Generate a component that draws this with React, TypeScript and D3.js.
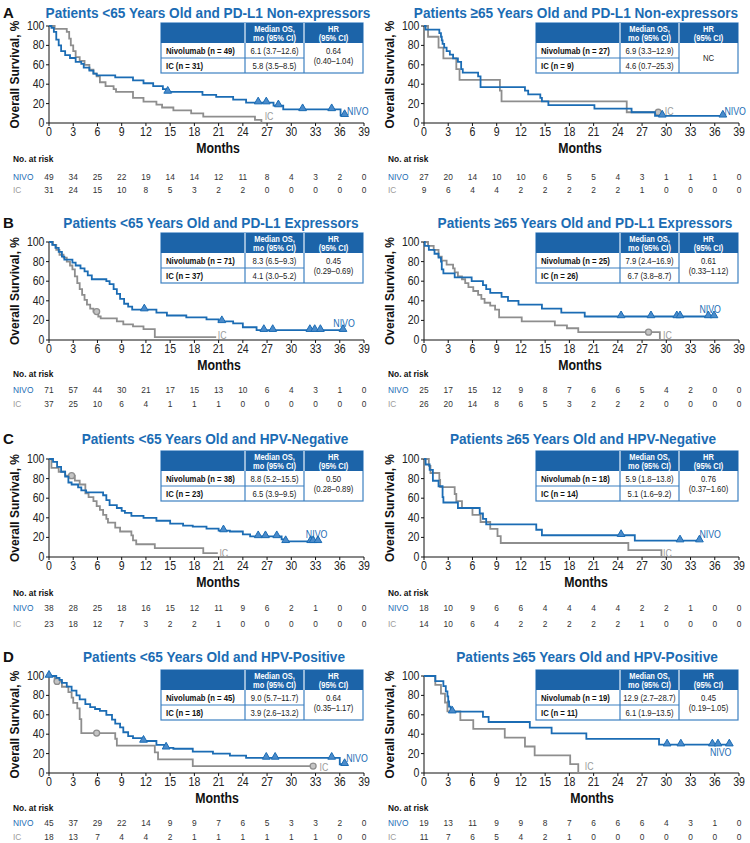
import React from "react";
import * as d3 from "d3";

type Step = [number, number];

const monthTicks = d3.range(0, 40, 3);
const survivalTicks = [0, 20, 40, 60, 80, 100];

const titles = [
  "Patients <65 Years Old and PD-L1 Non-expressors",
  "Patients ≥65 Years Old and PD-L1 Non-expressors",
  "Patients <65 Years Old and PD-L1 Expressors",
  "Patients ≥65 Years Old and PD-L1 Expressors",
  "Patients <65 Years Old and HPV-Negative",
  "Patients ≥65 Years Old and HPV-Negative",
  "Patients <65 Years Old and HPV-Positive",
  "Patients ≥65 Years Old and HPV-Positive",
];
const panelLetters = ["A", "", "B", "", "C", "", "D", ""];

const nivoN = [49, 27, 71, 25, 38, 18, 45, 19];
const icN = [31, 9, 37, 26, 23, 14, 18, 11];
const nivoMedian = ["6.1 (3.7–12.6)", "6.9 (3.3–12.9)", "8.3 (6.5–9.3)", "7.9 (2.4–16.9)", "8.8 (5.2–15.5)", "5.9 (1.8–13.8)", "9.0 (5.7–11.7)", "12.9 (2.7–28.7)"];
const icMedian = ["5.8 (3.5–8.5)", "4.6 (0.7–25.3)", "4.1 (3.0–5.2)", "6.7 (3.8–8.7)", "6.5 (3.9–9.5)", "5.1 (1.6–9.2)", "3.9 (2.6–13.2)", "6.1 (1.9–13.5)"];
const hrValue = ["0.64", "NC", "0.45", "0.61", "0.50", "0.76", "0.64", "0.45"];
const hrCI = ["(0.40–1.04)", "", "(0.29–0.69)", "(0.33–1.12)", "(0.28–0.89)", "(0.37–1.60)", "(0.35–1.17)", "(0.19–1.05)"];

const nivoRisk = [
  [49, 34, 25, 22, 19, 14, 14, 12, 11, 8, 4, 3, 2, 0],
  [27, 20, 14, 10, 10, 6, 5, 5, 4, 3, 1, 1, 1, 0],
  [71, 57, 44, 30, 21, 17, 15, 13, 10, 6, 4, 3, 1, 0],
  [25, 17, 15, 12, 9, 8, 7, 6, 6, 5, 4, 2, 0, 0],
  [38, 28, 25, 18, 16, 15, 12, 11, 9, 6, 2, 1, 0, 0],
  [18, 10, 9, 6, 6, 4, 4, 4, 4, 2, 2, 1, 0, 0],
  [45, 37, 29, 22, 14, 9, 9, 7, 6, 5, 3, 3, 2, 0],
  [19, 13, 11, 9, 9, 8, 7, 6, 6, 6, 4, 3, 1, 0],
];
const icRisk = [
  [31, 24, 15, 10, 8, 5, 3, 2, 2, 0, 0, 0, 0, 0],
  [9, 6, 4, 4, 2, 2, 2, 2, 2, 1, 0, 0, 0, 0],
  [37, 25, 10, 6, 4, 1, 1, 1, 0, 0, 0, 0, 0, 0],
  [26, 20, 14, 8, 6, 5, 3, 2, 2, 2, 0, 0, 0, 0],
  [23, 18, 12, 7, 3, 2, 2, 1, 0, 0, 0, 0, 0, 0],
  [14, 10, 6, 4, 2, 2, 2, 2, 2, 1, 0, 0, 0, 0],
  [18, 13, 7, 4, 4, 2, 1, 1, 1, 1, 1, 1, 0, 0],
  [11, 7, 6, 5, 4, 2, 1, 0, 0, 0, 0, 0, 0, 0],
];

// Kaplan-Meier drops: [month, survival % after the drop]
const nivoA1: Step[] = [[0.3, 98], [0.6, 94], [0.9, 86], [1.2, 80], [1.5, 74], [2.0, 70], [2.6, 67], [3.3, 63], [4.0, 61], [4.3, 57], [5.0, 54], [5.5, 51], [5.9, 49], [8.2, 47], [10.4, 44], [11.7, 41], [12.9, 38], [14.1, 35], [14.5, 32], [19.0, 29], [20.7, 27], [22.8, 24], [24.4, 21], [27.8, 18], [29.0, 14], [36.1, 8]];
const icA1: Step[] = [[0.7, 97], [2.2, 94], [2.5, 87], [2.7, 80], [3.0, 74], [3.3, 68], [3.8, 64], [4.4, 60], [5.0, 55], [5.5, 51], [5.9, 48], [6.3, 42], [7.0, 38], [8.0, 35], [8.3, 32], [10.4, 26], [11.7, 22], [13.3, 19], [14.0, 16], [15.4, 13], [17.6, 10], [19.1, 6.5], [25.5, 3.2], [26.3, 0]];
const nivoA2: Step[] = [[0.2, 96.3], [1.9, 92.6], [2.1, 88.9], [2.2, 85.2], [2.3, 81.5], [2.5, 77.8], [2.8, 74.1], [3.2, 70.4], [3.6, 66.7], [4.2, 63.0], [4.6, 55.6], [4.8, 51.9], [6.7, 48.1], [7.0, 37.0], [12.5, 33.3], [12.9, 29.6], [14.4, 25.9], [14.6, 22.2], [15.4, 18.5], [21.1, 14.8], [25.7, 11.1], [28.6, 7.4]];
const icA2: Step[] = [[0.5, 88.9], [1.8, 77.8], [2.4, 66.7], [4.0, 55.6], [4.4, 44.4], [9.4, 33.3], [9.6, 22.2], [25.1, 11.1]];
const nivoB1: Step[] = [[0.4, 97], [0.8, 94], [1.2, 90], [1.6, 85], [1.9, 82], [2.9, 79], [3.3, 76], [3.9, 73], [4.4, 70], [4.8, 66], [5.3, 62], [7.1, 60], [7.5, 57], [8.0, 52], [8.4, 47], [8.8, 42], [9.3, 37], [9.8, 34], [10.3, 31], [13.3, 28], [14.6, 25], [17.0, 23], [19.5, 21], [21.0, 19], [22.8, 17], [24.0, 13], [25.7, 10]];
const icB1: Step[] = [[0.5, 97], [0.9, 92], [1.3, 87], [1.8, 84], [2.2, 80], [2.6, 76], [2.9, 72], [3.2, 65], [3.5, 58], [3.8, 52], [4.1, 46], [4.4, 41], [4.7, 36], [5.1, 32], [5.5, 29], [6.1, 24], [6.4, 22], [8.4, 19], [9.2, 16], [10.4, 14], [11.7, 11], [13.1, 3]];
const nivoB2: Step[] = [[0.1, 96], [0.6, 92], [1.3, 88], [1.8, 84], [2.1, 80], [2.2, 72], [2.4, 68], [3.8, 64], [5.9, 60], [7.3, 56], [7.7, 52], [8.2, 48], [9.6, 44], [10.4, 40], [11.7, 36], [14.6, 32], [17.0, 28], [19.9, 24]];
const icB2: Step[] = [[0.5, 96], [1.2, 92], [1.8, 85], [2.2, 81], [2.8, 77], [3.6, 73], [3.8, 69], [4.2, 65], [4.7, 62], [5.1, 58], [5.5, 54], [6.1, 50], [6.7, 46], [7.1, 42], [7.5, 38], [8.2, 35], [8.8, 31], [9.3, 23], [12.1, 19], [16.2, 15], [17.7, 12], [19.1, 8], [29.2, 0]];
const nivoC1: Step[] = [[0.5, 97], [1.0, 92], [1.5, 87], [2.0, 82], [2.4, 76], [2.8, 74], [3.6, 71], [4.0, 68], [4.6, 66], [6.7, 63], [7.1, 58], [7.5, 53], [8.4, 50], [9.0, 47], [9.4, 45], [10.2, 42], [11.7, 40], [13.3, 37], [15.0, 34], [16.6, 32], [17.8, 31], [19.5, 29], [21.0, 27], [22.4, 26], [24.0, 23], [24.9, 21], [28.8, 18], [29.2, 16]];
const icC1: Step[] = [[0.3, 91], [1.2, 87], [2.0, 83], [3.2, 78], [3.8, 74], [4.5, 65], [4.9, 61], [5.5, 57], [5.9, 52], [6.3, 48], [6.7, 43], [7.1, 39], [7.3, 35], [8.2, 30], [8.8, 26], [10.2, 22], [10.4, 17], [10.8, 13], [13.1, 9], [19.1, 4]];
const nivoC2: Step[] = [[0.2, 94.4], [0.7, 88.9], [1.1, 77.8], [1.8, 72.2], [2.3, 61.1], [2.4, 55.6], [4.2, 50], [6.9, 44.4], [7.3, 38.9], [7.7, 33.3], [13.9, 27.8], [14.6, 22.2], [26.1, 16.7]];
const icC2: Step[] = [[0.6, 92.9], [0.8, 85.7], [1.9, 78.6], [2.0, 71.4], [3.8, 64.3], [4.0, 57.1], [4.7, 50], [6.0, 42.9], [7.0, 35.7], [8.2, 28.6], [9.1, 21.4], [9.5, 14.3], [25.3, 7.1], [29.4, 0]];
const nivoD1: Step[] = [[0.9, 98], [1.3, 96], [1.6, 93], [2.2, 89], [2.8, 85], [3.4, 80], [3.8, 76], [4.5, 71], [5.1, 68], [5.7, 66], [6.3, 64], [7.1, 60], [7.8, 55], [8.2, 51], [8.8, 47], [9.2, 42], [9.8, 38], [10.4, 36], [11.6, 33], [13.3, 29], [14.3, 26], [15.4, 25], [17.8, 22], [20.3, 20], [22.4, 18], [24.4, 15.5], [36.0, 9]];
const icD1: Step[] = [[0.7, 94.4], [1.6, 88.9], [2.4, 83.3], [2.8, 77.8], [3.0, 72.2], [3.5, 66.7], [3.8, 55.6], [4.0, 41.2], [8.2, 35.3], [8.4, 28.2], [13.1, 21.2], [13.5, 14.1], [17.8, 7.1]];
const nivoD2: Step[] = [[1.4, 94.7], [2.4, 89.5], [2.7, 84.2], [2.9, 78.9], [3.0, 73.7], [3.1, 68.4], [3.3, 63.2], [7.3, 57.9], [8.0, 52.6], [13.1, 46.8], [15.8, 40.9], [20.1, 35.1], [29.1, 29.2]];
const icD2: Step[] = [[1.4, 90.9], [2.1, 81.8], [2.6, 72.7], [2.9, 63.6], [4.5, 54.5], [6.1, 45.5], [10.0, 36.4], [12.5, 27.3], [13.7, 18.2], [18.1, 9.1], [19.1, 0]];

const nivoSteps = [nivoA1, nivoA2, nivoB1, nivoB2, nivoC1, nivoC2, nivoD1, nivoD2];
const icSteps = [icA1, icA2, icB1, icB2, icC1, icC2, icD1, icD2];
const nivoEnd = [36.6, 37.0, 36.4, 35.9, 33.3, 34.1, 36.6, 37.8];
const icEnd = [26.3, 29.0, 20.7, 29.2, 20.9, 29.4, 32.7, 19.1];
const nivoCensor = [
  [14.7, 25.9, 26.9, 28.4, 31.4, 35.0, 36.6],
  [29.5, 37.0],
  [11.8, 21.4, 26.6, 27.7, 32.3, 32.9, 33.6, 36.4],
  [24.4, 28.1, 31.3, 31.7, 35.2, 35.9],
  [21.6, 25.9, 26.8, 28.2, 29.3, 32.4, 32.7, 33.3],
  [24.4, 31.7, 34.1],
  [0, 11.7, 14.5, 26.9, 28.0, 35.0, 36.6],
  [3.5, 30.1, 31.8, 35.7, 36.4, 37.8],
];
const icCensor = [[], [29.0], [5.9], [27.8], [2.8], [], [1.0, 5.9, 32.7], []];

// curve-label anchors [month, %]
const nivoLabelAt = [[36.9, 12], [37.2, 12], [35.2, 17], [34.1, 31], [31.8, 23], [34.1, 23], [36.8, 15], [35.4, 21]];
const icLabelAt = [[26.7, 7], [29.8, 12], [20.9, 5], [29.6, 5], [21.1, 4], [29.6, 4], [33.5, 6], [19.9, 7]];

// ---------- styling / layout ----------
const BLUE = "#1b6cb4";
const HEADER = "#1c64a9";
const BORDER = "#3d80c2";
const GRAY = "#8e8e8e";
const GRAY_TXT = "#9b9b9b";
const FONT = "'Liberation Sans', Arial, Helvetica, sans-serif";
const SQ = 0.88;

const rowTop = [26, 242, 459, 676];
const rowBot = [123, 340, 557, 773];
const rowTitle = [12, 222, 438, 656];
const rowTable = [23, 233, 451, 670];
const rowNoRisk = [158, 373, 592, 807];
const rowNivoRisk = [176, 389, 607, 822];
const rowIcRisk = [189, 403, 623, 836];
const titleCx = [208, 576, 211, 585, 215, 583, 214, 587];
const monthsCx = [218, 580, 219, 580, 218, 586, 217, 592];

function T(p: {
  x: number; y: number; size: number; children: React.ReactNode;
  anchor?: "start" | "middle" | "end"; weight?: string | number; fill?: string; sx?: number;
}) {
  const sx = p.sx ?? SQ;
  return (
    <text
      transform={`translate(${p.x},${p.y}) scale(${sx},1)`}
      fontSize={p.size}
      textAnchor={p.anchor ?? "start"}
      fontWeight={p.weight ?? "normal"}
      fill={p.fill ?? "#222"}
    >
      {p.children}
    </text>
  );
}

function survAt(steps: Step[], t: number) {
  let s = 100;
  for (const [tt, v] of steps) if (tt <= t) s = v;
  return s;
}

function kmPoints(steps: Step[], end: number): Step[] {
  const pts: Step[] = [[0, 100]];
  let prev = 100;
  for (const [t, s] of steps) {
    pts.push([t, prev]);
    pts.push([t, s]);
    prev = s;
  }
  pts.push([end, prev]);
  return pts;
}

function Panel({ i }: { i: number }) {
  const r = Math.floor(i / 2);
  const c = i % 2;
  const x0 = c === 0 ? 49 : 424;
  const xs = d3.scaleLinear().domain([0, 39]).range([x0, x0 + 315]);
  const ys = d3.scaleLinear().domain([0, 100]).range([rowBot[r], rowTop[r]]);
  const line = d3.line<Step>().x((d) => xs(d[0])).y((d) => ys(d[1]));
  const tri = d3.symbol().type(d3.symbolTriangle).size(26)();
  const yMid = (rowTop[r] + rowBot[r]) / 2;

  // table
  const tx = x0 + 112;
  const ty = rowTable[r];
  const cw = [84, 59, 59];
  const hh = 20;
  const rh = 15;
  const c1 = tx + cw[0];
  const c2 = c1 + cw[1];
  const tw = cw[0] + cw[1] + cw[2];
  const th = hh + 2 * rh;

  const labelX = c === 0 ? 13 : 388;

  return (
    <g>
      {panelLetters[i] && (
        <T x={3} y={rowTitle[r] + 5.5} size={15} weight="bold" fill="#111" sx={1}>{panelLetters[i]}</T>
      )}
      <T x={titleCx[i]} y={rowTitle[r] + 5.5} size={15.5} weight="bold" fill={BLUE} anchor="middle">{titles[i]}</T>

      {/* y-axis label */}
      <text
        transform={`translate(${x0 - 30},${yMid}) rotate(-90)`}
        fontSize={12}
        fontWeight="bold"
        textAnchor="middle"
        fill="#111"
      >
        Overall Survival, %
      </text>

      {/* axes */}
      <line x1={x0} x2={x0} y1={rowTop[r]} y2={rowBot[r]} stroke="#111" strokeWidth={1} />
      <line x1={x0} x2={x0 + 315} y1={rowBot[r]} y2={rowBot[r]} stroke="#111" strokeWidth={1} />
      {survivalTicks.map((v) => (
        <g key={"y" + v}>
          <line x1={x0 - 3} x2={x0} y1={ys(v)} y2={ys(v)} stroke="#111" />
          <T x={x0 - 4.5} y={ys(v) + 4} size={12} anchor="end" fill="#222">{v}</T>
        </g>
      ))}
      {monthTicks.map((m) => (
        <g key={"x" + m}>
          <line x1={xs(m)} x2={xs(m)} y1={rowBot[r]} y2={rowBot[r] + 3} stroke="#111" />
          <T x={xs(m)} y={rowBot[r] + 13} size={12} anchor="middle" fill="#222">{m}</T>
        </g>
      ))}
      <T x={monthsCx[i]} y={rowBot[r] + 30} size={14} weight="bold" anchor="middle" fill="#111">Months</T>

      {/* curves */}
      <path d={line(kmPoints(icSteps[i], icEnd[i])) || ""} fill="none" stroke={GRAY} strokeWidth={1.8} />
      {icCensor[i].map((t, k) => (
        <circle key={"ic" + k} cx={xs(t)} cy={ys(survAt(icSteps[i], t))} r={3} fill="#c4c4c4" stroke={GRAY} strokeWidth={1.3} />
      ))}
      <path d={line(kmPoints(nivoSteps[i], nivoEnd[i])) || ""} fill="none" stroke={BLUE} strokeWidth={1.8} />
      {nivoCensor[i].map((t, k) => (
        <path key={"nc" + k} d={tri || ""} transform={`translate(${xs(t)},${ys(survAt(nivoSteps[i], t)) - 1})`} fill="#4a8bcb" stroke={BLUE} strokeWidth={1} />
      ))}
      <T x={xs(nivoLabelAt[i][0])} y={ys(nivoLabelAt[i][1]) + 3.5} size={10} fill={BLUE}>NIVO</T>
      <T x={xs(icLabelAt[i][0])} y={ys(icLabelAt[i][1]) + 3.5} size={10} fill={GRAY_TXT}>IC</T>

      {/* table */}
      <rect x={tx} y={ty} width={tw} height={th} fill="#fff" stroke={BORDER} strokeWidth={1.2} />
      <rect x={tx} y={ty} width={tw} height={hh} fill={HEADER} />
      <line x1={c1} x2={c1} y1={ty} y2={ty + th} stroke={c === 0 ? BORDER : BORDER} strokeWidth={1.2} />
      <line x1={c2} x2={c2} y1={ty} y2={ty + th} stroke={BORDER} strokeWidth={1.2} />
      <line x1={c1} x2={c1} y1={ty} y2={ty + hh} stroke="#fff" strokeWidth={1} />
      <line x1={c2} x2={c2} y1={ty} y2={ty + hh} stroke="#fff" strokeWidth={1} />
      <line x1={tx} x2={c2} y1={ty + hh + rh} y2={ty + hh + rh} stroke={BORDER} strokeWidth={1.2} />
      <T x={(c1 + c2) / 2} y={ty + 8.5} size={8.5} weight="bold" anchor="middle" fill="#fff">Median OS,</T>
      <T x={(c1 + c2) / 2} y={ty + 17.5} size={8.5} weight="bold" anchor="middle" fill="#fff">mo (95% CI)</T>
      <T x={(c2 + tx + tw) / 2} y={ty + 8.5} size={8.5} weight="bold" anchor="middle" fill="#fff">HR</T>
      <T x={(c2 + tx + tw) / 2} y={ty + 17.5} size={8.5} weight="bold" anchor="middle" fill="#fff">(95% CI)</T>
      <T x={tx + 5} y={ty + hh + 10.5} size={8.8} weight="bold" fill="#111">{`Nivolumab (n = ${nivoN[i]})`}</T>
      <T x={tx + 5} y={ty + hh + rh + 10.5} size={8.8} weight="bold" fill="#111">{`IC (n = ${icN[i]})`}</T>
      <T x={(c1 + c2) / 2} y={ty + hh + 10.5} size={8.8} anchor="middle" fill="#222">{nivoMedian[i]}</T>
      <T x={(c1 + c2) / 2} y={ty + hh + rh + 10.5} size={8.8} anchor="middle" fill="#222">{icMedian[i]}</T>
      {hrCI[i] ? (
        <>
          <T x={(c2 + tx + tw) / 2} y={ty + hh + 11} size={8.8} anchor="middle" fill="#222">{hrValue[i]}</T>
          <T x={(c2 + tx + tw) / 2} y={ty + hh + 21} size={8.8} anchor="middle" fill="#222">{hrCI[i]}</T>
        </>
      ) : (
        <T x={(c2 + tx + tw) / 2} y={ty + hh + rh + 3} size={8.8} anchor="middle" fill="#222">{hrValue[i]}</T>
      )}

      {/* risk table */}
      <T x={labelX} y={rowNoRisk[r] + 3.5} size={9.5} weight="bold" fill="#111">No. at risk</T>
      <T x={labelX} y={rowNivoRisk[r] + 3.5} size={9.5} fill={BLUE}>NIVO</T>
      <T x={labelX} y={rowIcRisk[r] + 3.5} size={9.5} fill={GRAY_TXT}>IC</T>
      {monthTicks.map((m, k) => (
        <g key={"r" + m}>
          <T x={xs(m)} y={rowNivoRisk[r] + 3.5} size={9.5} anchor="middle" fill="#333">{nivoRisk[i][k]}</T>
          <T x={xs(m)} y={rowIcRisk[r] + 3.5} size={9.5} anchor="middle" fill="#333">{icRisk[i][k]}</T>
        </g>
      ))}
    </g>
  );
}

export default function App() {
  return (
    <svg
      width={750}
      height={843}
      viewBox="0 0 750 843"
      style={{ position: "absolute", left: 0, top: 0, background: "#fff" }}
      fontFamily={FONT}
    >
      <rect width={750} height={843} fill="#fff" />
      {d3.range(8).map((i) => (
        <Panel key={i} i={i} />
      ))}
    </svg>
  );
}
